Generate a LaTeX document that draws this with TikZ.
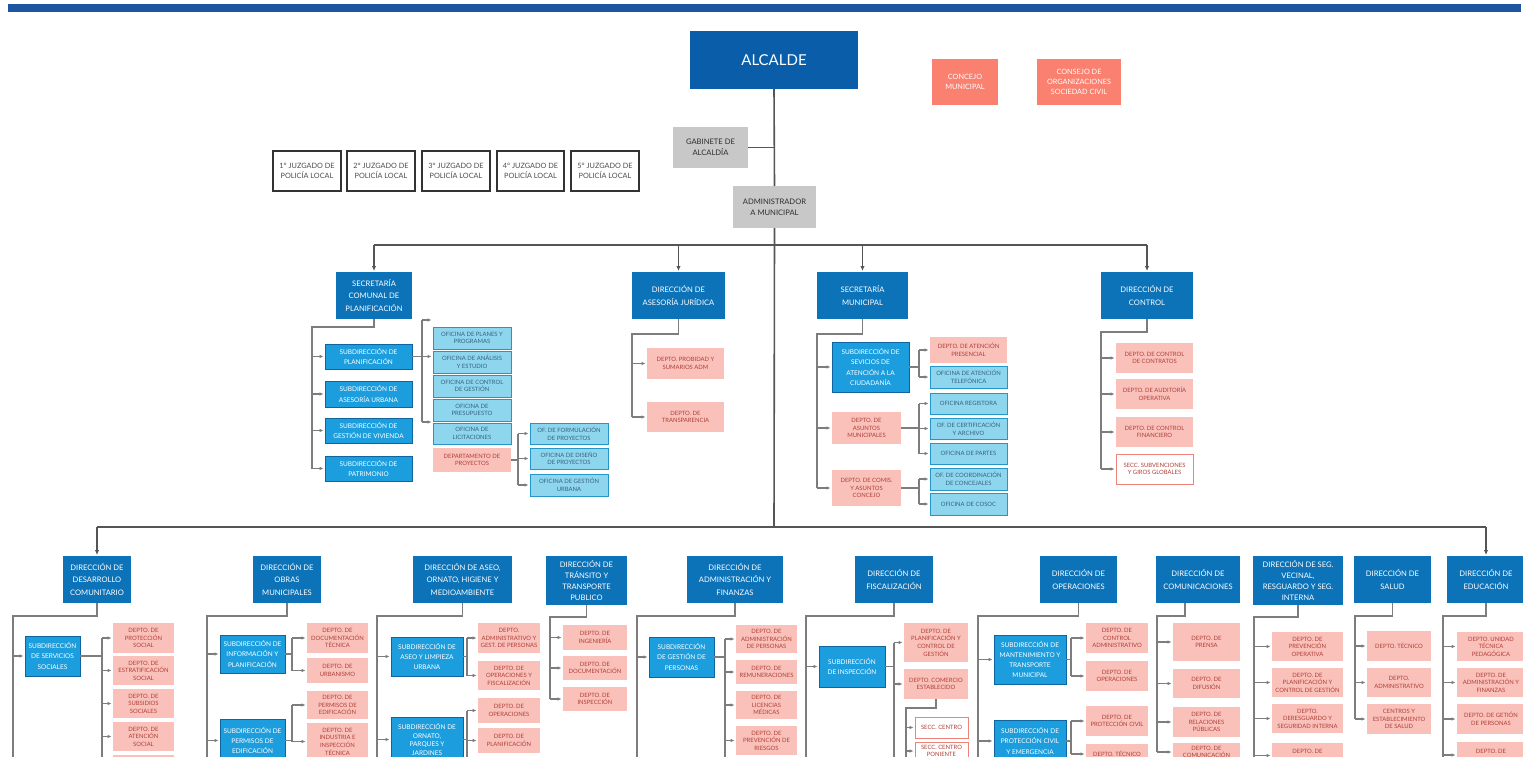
\documentclass[tikz,border=0pt]{standalone}
\usepackage{fontspec}
\setmainfont{Lato}
\usetikzlibrary{arrows.meta}
\definecolor{cAlc}{RGB}{10,93,168}
\definecolor{cDir}{RGB}{12,115,185}
\definecolor{cSub}{RGB}{28,158,222}
\definecolor{cSubB}{RGB}{16,100,160}
\definecolor{cOfi}{RGB}{142,213,238}
\definecolor{cOfiB}{RGB}{38,150,200}
\definecolor{cOfiT}{RGB}{55,100,130}
\definecolor{cPink}{RGB}{250,192,186}
\definecolor{cPinkT}{RGB}{175,65,55}
\definecolor{cSecc}{RGB}{238,130,120}
\definecolor{cSal}{RGB}{250,128,112}
\definecolor{cGray}{RGB}{200,200,200}
\definecolor{cGrayT}{RGB}{45,45,45}
\definecolor{cLine}{RGB}{125,125,125}
\definecolor{cMain}{RGB}{85,85,85}
\definecolor{cBar}{RGB}{30,85,160}
\newcommand{\obox}[7]{\node[#1,minimum width={(#5-#3)*1pt},minimum height={(#6-#4)*1pt}] (#2) at ({(#3+#5)/2},{(#4+#6)/2}) {#7};}
\newcommand{\efan}[5]{%
 \coordinate (#1B) at (#2,0);
 \draw[lnk] (#1.east) -- (#1.east -| #1B);
 \draw[lnk] (#1B |- #3) -- (#1B |- #4);
 \foreach \c in {#5} \draw[lnka] (#1B |- \c) -- (\c.west);}
\newcommand{\dfan}[5]{%
 \coordinate (#1B) at (#2,#3);
 \draw[lnk] (#1.south) |- (#1B) -- (#1B |- #4);
 \foreach \c in {#5} \draw[lnka] (#1B |- \c) -- (\c.west);}
\tikzset{
 bxbase/.style={inner sep=0pt, outer sep=0pt, align=center},
 alcbox/.style={bxbase, fill=cAlc, text=white, font=\fontsize{15}{18}\selectfont},
 dirbox/.style={bxbase, fill=cDir, text=white, font=\fontsize{7.6}{12.5}\selectfont},
 dirbox4/.style={dirbox, font=\fontsize{7.6}{11.3}\selectfont},
 subbox/.style={bxbase, fill=cSub, draw=cSubB, line width=0.8pt, text=white, font=\fontsize{6.5}{10.3}\selectfont},
 ofibox/.style={bxbase, fill=cOfi, draw=cOfiB, line width=1pt, text=cOfiT, font=\fontsize{5.9}{7.6}\selectfont},
 pinkbox/.style={bxbase, fill=cPink, text=cPinkT, font=\fontsize{5.9}{7.6}\selectfont},
 seccbox/.style={bxbase, fill=white, draw=cSecc, line width=1pt, text=cPinkT, font=\fontsize{5.9}{7.6}\selectfont},
 salbox/.style={bxbase, fill=cSal, text=white, font=\fontsize{7.3}{10}\selectfont},
 graybox/.style={bxbase, fill=cGray, text=cGrayT, font=\fontsize{7.6}{11}\selectfont},
 juzbox/.style={bxbase, fill=white, draw=black!80, line width=1.2pt, text=black!70, font=\fontsize{7.3}{10.5}\selectfont},
 tight/.style={font=\fontsize{5.9}{6.6}\selectfont},
 lnk/.style={draw=cLine, line width=1.3pt},
 lnka/.style={lnk, -{Latex[length=4pt,width=3.6pt]}, shorten >=1.5pt},
 mlnk/.style={draw=cMain, line width=1.6pt},
 mlnka/.style={mlnk, -{Latex[length=5pt,width=4.5pt]}, shorten >=1pt},
}
\begin{document}
\begin{tikzpicture}[x=1pt,y=-1pt]
\useasboundingbox (0,0) rectangle (1523,757);
\clip (0,0) rectangle (1523,757);
\fill[white] (0,0) rectangle (1523,757);
\fill[cBar] (8,4) rectangle (1521,12);
\coordinate (botc) at (0,775);
% top
\obox{alcbox}{alc}{690}{31}{858}{89}{ALCALDE}
\obox{salbox}{cm}{932}{59}{998}{105}{CONCEJO\\MUNICIPAL}
\obox{salbox}{cosc}{1037}{59}{1121}{105}{CONSEJO DE\\ORGANIZACIONES\\SOCIEDAD CIVIL}
\obox{graybox}{gab}{673}{127}{748}{168}{GABINETE DE\\ALCALDÍA}
\obox{graybox}{adm}{733}{186}{816}{228}{ADMINISTRADOR\\A MUNICIPAL}
\obox{juzbox}{j1}{273}{151}{341}{191}{1° JUZGADO DE\\POLICÍA LOCAL}
\obox{juzbox}{j2}{347}{151}{415}{191}{2° JUZGADO DE\\POLICÍA LOCAL}
\obox{juzbox}{j3}{422}{151}{490}{191}{3° JUZGADO DE\\POLICÍA LOCAL}
\obox{juzbox}{j4}{497}{151}{564}{191}{4° JUZGADO DE\\POLICÍA LOCAL}
\obox{juzbox}{j5}{571}{151}{639}{191}{5° JUZGADO DE\\POLICÍA LOCAL}
% tier 1
\obox{dirbox}{scp}{336}{272}{412}{319}{SECRETARÍA\\COMUNAL DE\\PLANIFICACIÓN}
\obox{dirbox}{daj}{632}{272}{725}{319}{DIRECCIÓN DE\\ASESORÍA JURÍDICA}
\obox{dirbox}{sm}{817}{272}{908}{319}{SECRETARÍA\\MUNICIPAL}
\obox{dirbox}{dc}{1101}{272}{1193}{319}{DIRECCIÓN DE\\CONTROL}
% secretaria comunal
\obox{subbox}{sp1}{325}{344}{412}{369}{SUBDIRECCIÓN DE\\PLANIFICACIÓN}
\obox{subbox}{sp2}{325}{381}{412}{407}{SUBDIRECCIÓN DE\\ASESORÍA URBANA}
\obox{subbox}{sp3}{325}{418}{412}{443}{SUBDIRECCIÓN DE\\GESTIÓN DE VIVIENDA}
\obox{subbox}{sp4}{325}{456}{412}{481}{SUBDIRECCIÓN DE\\PATRIMONIO}
\obox{ofibox}{ofp}{433}{327}{511}{349}{OFICINA DE PLANES Y\\PROGRAMAS}
\obox{ofibox}{ofa}{433}{351}{511}{373}{OFICINA DE ANÁLISIS\\Y ESTUDIO}
\obox{ofibox}{ofc}{433}{375}{511}{397}{OFICINA DE CONTROL\\DE GESTIÓN}
\obox{ofibox}{ofu}{433}{399}{511}{421}{OFICINA DE\\PRESUPUESTO}
\obox{ofibox}{ofl}{433}{423}{511}{444}{OFICINA DE\\LICITACIONES}
\obox{pinkbox}{dpy}{433}{448}{511}{472}{DEPARTAMENTO DE\\PROYECTOS}
\obox{ofibox}{ofm}{530}{423}{608}{444}{OF. DE FORMULACIÓN\\DE PROYECTOS}
\obox{ofibox}{ofd}{530}{448}{608}{469}{OFICINA DE DISEÑO\\DE PROYECTOS}
\obox{ofibox}{ofg}{530}{474}{608}{496}{OFICINA DE GESTIÓN\\URBANA}
% asesoria
\obox{pinkbox}{dpro}{647}{348}{724}{379}{DEPTO. PROBIDAD Y\\SUMARIOS ADM}
\obox{pinkbox}{dtr}{647}{402}{724}{432}{DEPTO. DE\\TRANSPARENCIA}
% secretaria municipal
\obox{subbox}{ssa}{832}{342}{909}{392}{SUBDIRECCIÓN DE\\SEVICIOS DE\\ATENCIÓN A LA\\CIUDADANÍA}
\obox{pinkbox}{dap}{930}{337}{1007}{363}{DEPTO. DE ATENCIÓN\\PRESENCIAL}
\obox{ofibox}{oat}{930}{366}{1007}{388}{OFICINA DE ATENCIÓN\\TELEFÓNICA}
\obox{ofibox}{ore}{930}{393}{1007}{414}{OFICINA REGISTORA}
\obox{ofibox}{oce}{930}{418}{1007}{439}{OF. DE CERTIFICACIÓN\\Y ARCHIVO}
\obox{ofibox}{opa}{930}{443}{1007}{464}{OFICINA DE PARTES}
\obox{ofibox}{occ}{930}{468}{1007}{490}{OF. DE COORDINACIÓN\\DE CONCEJALES}
\obox{ofibox}{oco}{930}{493}{1007}{515}{OFICINA DE COSOC}
\obox{pinkbox}{dam}{832}{412}{901}{444}{DEPTO. DE\\ASUNTOS\\MUNICIPALES}
\obox{pinkbox}{dcc}{832}{470}{901}{506}{DEPTO. DE COMIS.\\Y ASUNTOS\\CONCEJO}
% control
\obox{pinkbox}{cc1}{1116}{343}{1193}{373}{DEPTO. DE CONTROL\\DE CONTRATOS}
\obox{pinkbox}{cc2}{1116}{379}{1193}{409}{DEPTO. DE AUDITORÍA\\OPERATIVA}
\obox{pinkbox}{cc3}{1116}{417}{1193}{447}{DEPTO. DE CONTROL\\FINANCIERO}
\obox{seccbox}{sgg}{1116}{454}{1193}{484}{SECC. SUBVENCIONES\\Y GIROS GLOBALES}
% tier 2 directions
\obox{dirbox}{ddc}{63}{556}{131}{603}{DIRECCIÓN DE\\DESARROLLO\\COMUNITARIO}
\obox{dirbox}{dom}{253}{556}{321}{603}{DIRECCIÓN DE\\OBRAS\\MUNICIPALES}
\obox{dirbox}{daseo}{413}{556}{512}{603}{DIRECCIÓN DE ASEO,\\ORNATO, HIGIENE Y\\MEDIOAMBIENTE}
\obox{dirbox4}{dtt}{546}{556}{627}{605}{DIRECCIÓN DE\\TRÁNSITO Y\\TRANSPORTE\\PUBLICO}
\obox{dirbox}{daf}{687}{556}{783}{603}{DIRECCIÓN DE\\ADMINISTRACIÓN Y\\FINANZAS}
\obox{dirbox}{dfis}{855}{556}{933}{603}{DIRECCIÓN DE\\FISCALIZACIÓN}
\obox{dirbox}{dop}{1040}{556}{1117}{603}{DIRECCIÓN DE\\OPERACIONES}
\obox{dirbox}{dcom}{1156}{556}{1240}{603}{DIRECCIÓN DE\\COMUNICACIONES}
\obox{dirbox4}{dseg}{1253}{556}{1343}{605}{DIRECCIÓN DE SEG.\\VECINAL,\\RESGUARDO Y SEG.\\INTERNA}
\obox{dirbox}{dsal}{1354}{556}{1431}{603}{DIRECCIÓN DE\\SALUD}
\obox{dirbox}{dedu}{1447}{556}{1525}{603}{DIRECCIÓN DE\\EDUCACIÓN}
% desarrollo comunitario
\obox{subbox}{ssoc}{25}{636}{80}{676}{SUBDIRECCIÓN\\DE SERVICIOS\\SOCIALES}
\obox{pinkbox}{pso}{113}{623}{174}{653}{DEPTO. DE\\PROTECCIÓN\\SOCIAL}
\obox{pinkbox}{pes}{113}{656}{174}{685}{DEPTO. DE\\ESTRATIFICACIÓN\\SOCIAL}
\obox{pinkbox}{psu}{113}{689}{174}{718}{DEPTO. DE\\SUBSIDIOS\\SOCIALES}
\obox{pinkbox}{pat}{113}{722}{174}{751}{DEPTO. DE\\ATENCIÓN\\SOCIAL}
\obox{pinkbox}{p5}{113}{755}{174}{790}{}
% obras
\obox{subbox}{sip}{220}{635}{285}{673}{SUBDIRECCIÓN DE\\INFORMACIÓN Y\\PLANIFICACIÓN}
\obox{subbox}{spe}{220}{719}{285}{762}{SUBDIRECCIÓN DE\\PERMISOS DE\\EDIFICACIÓN}
\obox{pinkbox}{pdt}{307}{623}{368}{653}{DEPTO. DE\\DOCUMENTACIÓN\\TÉCNICA}
\obox{pinkbox}{purb}{307}{658}{368}{683}{DEPTO. DE\\URBANISMO}
\obox{pinkbox}{ppe}{307}{691}{368}{719}{DEPTO. DE\\PERMISOS DE\\EDIFICACIÓN}
\obox{pinkbox}{pind}{307}{723}{368}{760}{DEPTO. DE\\INDUSTRIA E\\INSPECCIÓN\\TÉCNICA}
% aseo
\obox{subbox}{sal}{391}{637}{463}{676}{SUBDIRECCIÓN DE\\ASEO Y LIMPIEZA\\URBANA}
\obox{subbox,font=\fontsize{6.5}{8.8}\selectfont}{sop}{391}{717}{463}{762}{SUBDIRECCIÓN DE\\ORNATO,\\PARQUES Y\\JARDINES}
\obox{pinkbox}{padm}{478}{623}{540}{653}{DEPTO.\\ADMINISTRATIVO Y\\GEST. DE PERSONAS}
\obox{pinkbox}{pope}{478}{661}{540}{690}{DEPTO. DE\\OPERACIONES Y\\FISCALIZACIÓN}
\obox{pinkbox}{pop2}{478}{698}{540}{723}{DEPTO. DE\\OPERACIONES}
\obox{pinkbox}{ppl2}{478}{728}{540}{753}{DEPTO. DE\\PLANIFICACIÓN}
% transito
\obox{pinkbox}{ping}{563}{625}{627}{650}{DEPTO. DE\\INGENIERÍA}
\obox{pinkbox}{pdoc}{563}{656}{627}{680}{DEPTO. DE\\DOCUMENTACIÓN}
\obox{pinkbox}{pinsp}{563}{687}{627}{711}{DEPTO. DE\\INSPECCIÓN}
% administracion y finanzas
\obox{subbox}{sgp}{649}{637}{714}{677}{SUBDIRECCIÓN\\DE GESTIÓN DE\\PERSONAS}
\obox{pinkbox}{pap}{736}{625}{797}{653}{DEPTO. DE\\ADMINISTRACIÓN\\DE PERSONAS}
\obox{pinkbox}{prem}{736}{660}{797}{684}{DEPTO. DE\\REMUNERACIONES}
\obox{pinkbox}{plm}{736}{691}{797}{719}{DEPTO. DE\\LICENCIAS\\MÉDICAS}
\obox{pinkbox}{ppr}{736}{726}{797}{755}{DEPTO. DE\\PREVENCIÓN DE\\RIESGOS}
% fiscalizacion
\obox{subbox}{sinsp}{819}{646}{885}{687}{SUBDIRECCIÓN\\DE INSPECCIÓN}
\obox{pinkbox}{ppcg}{904}{623}{968}{662}{DEPTO. DE\\PLANIFICACIÓN Y\\CONTROL DE\\GESTIÓN}
\obox{pinkbox}{pce}{904}{669}{968}{699}{DEPTO. COMERCIO\\ESTABLECIDO}
\obox{seccbox}{sc1}{915}{717}{968}{738}{SECC. CENTRO}
\obox{seccbox,tight}{sc2}{915}{742}{968}{760}{SECC. CENTRO\\PONIENTE}
% operaciones
\obox{subbox}{smt}{994}{635}{1066}{684}{SUBDIRECCIÓN DE\\MANTENIMIENTO Y\\TRANSPORTE\\MUNICIPAL}
\obox{subbox}{spc}{994}{720}{1066}{762}{SUBDIRECCIÓN DE\\PROTECCIÓN CIVIL\\Y EMERGENCIA}
\obox{pinkbox}{pca}{1086}{623}{1148}{653}{DEPTO. DE\\CONTROL\\ADMINISTRATIVO}
\obox{pinkbox}{pop3}{1086}{661}{1148}{691}{DEPTO. DE\\OPERACIONES}
\obox{pinkbox}{ppc}{1086}{706}{1148}{736}{DEPTO. DE\\PROTECCIÓN CIVIL}
\obox{pinkbox}{ptec}{1086}{744}{1148}{764}{DEPTO. TÉCNICO}
% comunicaciones
\obox{pinkbox}{ppre}{1173}{623}{1240}{661}{DEPTO. DE\\PRENSA}
\obox{pinkbox}{pdif}{1173}{669}{1240}{698}{DEPTO. DE\\DIFUSIÓN}
\obox{pinkbox}{prp}{1173}{707}{1240}{737}{DEPTO. DE\\RELACIONES\\PÚBLICAS}
\obox{pinkbox,tight}{pcomu}{1173}{743}{1240}{761}{DEPTO. DE\\COMUNICACIÓN}
% seguridad
\obox{pinkbox}{ppo}{1272}{632}{1343}{661}{DEPTO. DE\\PREVENCIÓN\\OPERATIVA}
\obox{pinkbox}{ppcg2}{1272}{668}{1343}{697}{DEPTO. DE\\PLANIFICACIÓN Y\\CONTROL DE GESTIÓN}
\obox{pinkbox}{pdres}{1272}{704}{1343}{733}{DEPTO.\\DERESGUARDO Y\\SEGURIDAD INTERNA}
\obox{pinkbox}{pd4}{1272}{743}{1343}{768}{DEPTO. DE\\\mbox{}}
% salud
\obox{pinkbox}{ptec2}{1367}{631}{1431}{661}{DEPTO. TÉCNICO}
\obox{pinkbox}{padm2}{1367}{668}{1431}{697}{DEPTO.\\ADMINISTRATIVO}
\obox{pinkbox}{pces}{1367}{704}{1431}{734}{CENTROS Y\\ESTABLECIMIENTO\\DE SALUD}
% educacion
\obox{pinkbox}{putp}{1457}{632}{1525}{661}{DEPTO. UNIDAD\\TÉCNICA\\PEDAGÓGICA}
\obox{pinkbox}{paf2}{1457}{668}{1525}{697}{DEPTO. DE\\ADMINISTRACIÓN Y\\FINANZAS}
\obox{pinkbox}{pgp2}{1457}{704}{1525}{734}{DEPTO. DE GETIÓN\\DE PERSONAS}
\obox{pinkbox}{pd5}{1457}{742}{1525}{768}{DEPTO. DE\\\mbox{}}
% ---------- connectors ----------
\coordinate (t1) at (774,245);
\coordinate (t2) at (774,527);
\draw[mlnk] (alc.south) -- (adm.north);
\draw[mlnk] (gab.east) -- (gab.east -| alc.south);
\draw[mlnk] (adm.south) -- (t2);
\draw[mlnk] (scp.north |- t1) -- (dc.north |- t1);
\foreach \n in {scp,daj,sm,dc} \draw[mlnka] (\n.north |- t1) -- (\n.north);
\draw[mlnk] (ddc.north |- t2) -- (dedu.north |- t2);
\foreach \n in {ddc,dedu} \draw[mlnka] (\n.north |- t2) -- (\n.north);
% tier 1 fans
\dfan{scp}{312}{327}{sp4}{sp1,sp2,sp3,sp4}
\coordinate (spT) at (422,320);
\coordinate (spD) at (422,422);
\draw[lnk] (sp1.east) -- (sp1.east -| spT);
\draw[lnk] (spT) -- (spD);
\draw[lnka] (spT) -- (spT -| ofp.west);
\draw[lnka] (sp1.east -| spT) -- (sp1.east -| ofa.west);
\draw[lnka] (spD) -- (spD -| ofl.west);
\efan{dpy}{518}{ofm}{ofg}{ofm,ofd,ofg}
\dfan{daj}{632}{334}{dtr}{dpro,dtr}
\dfan{sm}{817}{334}{dcc}{ssa,dam,dcc}
\efan{ssa}{919}{dap}{oat}{dap,oat}
\efan{dam}{919}{ore}{opa}{ore,oce,opa}
\efan{dcc}{919}{occ}{oco}{occ,oco}
\dfan{dc}{1101}{332}{sgg}{cc1,cc2,cc3,sgg}
% tier 2 fans
\dfan{ddc}{13}{616}{botc}{ssoc}
\efan{ssoc}{102}{pso}{botc}{pso,pes,psu,pat,p5}
\dfan{dom}{207}{616}{botc}{sip,spe}
\efan{sip}{292}{pdt}{purb}{pdt,purb}
\efan{spe}{292}{ppe}{pind}{ppe,pind}
\dfan{daseo}{377}{616}{botc}{sal,sop}
\efan{sal}{467}{padm}{pope}{padm,pope}
\efan{sop}{467}{pop2}{botc}{pop2,ppl2}
\dfan{dtt}{550}{617}{pinsp}{ping,pdoc,pinsp}
\dfan{daf}{637}{616}{botc}{sgp}
\efan{sgp}{725}{pap}{botc}{pap,prem,plm,ppr}
\dfan{dfis}{806}{616}{botc}{sinsp}
\efan{sinsp}{894}{ppcg}{botc}{ppcg,pce}
\dfan{pce}{906}{708}{botc}{sc1,sc2}
\dfan{dop}{978}{616}{botc}{smt,spc}
\efan{smt}{1071}{pca}{pop3}{pca,pop3}
\efan{spc}{1071}{ppc}{ptec}{ppc,ptec}
\coordinate (dcomB) at (1157,616);
\draw[lnk] ([xshift=-13pt]dcom.south) |- (dcomB) -- (dcomB |- pcomu);
\foreach \c in {ppre,pdif,prp,pcomu} \draw[lnka] (dcomB |- \c) -- (\c.west);
\dfan{dseg}{1254}{617}{botc}{ppo,ppcg2,pdres,pd4}
\dfan{dsal}{1355}{616}{pces}{ptec2,padm2,pces}
\dfan{dedu}{1443}{616}{botc}{putp,paf2,pgp2,pd5}
\end{tikzpicture}
\end{document}
